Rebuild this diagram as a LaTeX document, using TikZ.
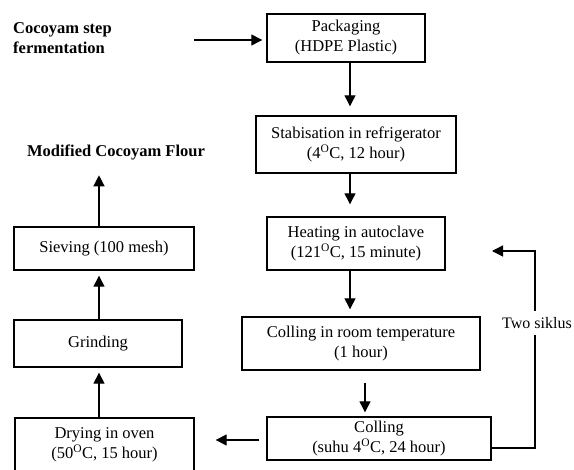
\documentclass[tikz,border=0pt]{standalone}
\usepackage{fontspec}
\setmainfont{Liberation Serif}
\usetikzlibrary{arrows.meta,calc}
\begin{document}
\begin{tikzpicture}[x=1pt,y=-1pt,
  box/.style 2 args={draw,line width=1.4pt,minimum width=#1,minimum height=#2,align=center,inner sep=0pt,font=\fontsize{16.5}{20}\selectfont},
  lbl/.style={inner sep=0pt,font=\fontsize{16}{20}\selectfont},
  blbl/.style={inner sep=0pt,font=\fontsize{16.5}{19.5}\selectfont\bfseries},
  arr/.style={-{Triangle[length=11pt,width=11pt]},line width=1.3pt},
  plain/.style={line width=1.3pt}]
\clip (0,0) rectangle (574,470);
\fill[white] (0,0) rectangle (574,470);
% nodes
\node[box={158pt}{48pt}] (pack) at (346,38) {Packaging\\(HDPE Plastic)};
\node[box={200pt}{57pt}] (stab) at (356,144.5) {Stabisation in refrigerator\\(4\textsuperscript{O}C, 12 hour)};
\node[box={178pt}{53pt}] (heat) at (356,243.5) {Heating in autoclave\\(121\textsuperscript{O}C, 15 minute)};
\node[box={238pt}{53pt}] (croom) at (361,343.5) {Colling in room temperature\\(1 hour)};
\node[box={224pt}{43pt}] (coll) at (379,438.5) {Colling\\(suhu 4\textsuperscript{O}C, 24 hour)};
\node[box={179pt}{54pt}] (dry) at (104.5,445) {Drying in oven\\(50\textsuperscript{O}C, 15 hour)};
\node[box={168pt}{47pt}] (grind) at (98,343.5) {Grinding};
\node[box={180pt}{43pt}] (sieve) at (104,248.5) {Sieving (100 mesh)};
\node[blbl] (mcf) at (116,152) {Modified Cocoyam Flour};
\node[blbl,anchor=west,align=left] (csf) at (13,38) {Cocoyam step\\fermentation};
\node[lbl,inner ysep=6pt,anchor=east] (two) at (572,323) {Two siklus};
% coordinates
\coordinate (cs) at (194,40);
\coordinate (lr) at (535,448);
\coordinate (ur) at (535,251);
\coordinate (lt) at (492,251);
% connectors
\draw[arr,shorten >=4pt] (cs) -- (pack.west |- cs);
\draw[arr,shorten >=9pt] (pack.south -| 350,0) -- (stab.north -| 350,0);
\draw[arr,shorten >=12pt] (stab.south -| 350,0) -- (heat.north -| 350,0);
\draw[arr,shorten >=7pt] (heat.south -| 350,0) -- (croom.north -| 350,0);
\draw[arr,shorten <=12pt,shorten >=4pt] (croom.south -| 365,0) -- (coll.north -| 365,0);
\draw[arr,shorten <=7pt,shorten >=21pt] (coll.west |- 0,440) -- (dry.east |- 0,440);
\draw[arr,shorten >=5pt] (dry.north -| 99,0) -- (grind.south -| 99,0);
\draw[arr,shorten >=5pt] (grind.north -| 99,0) -- (sieve.south -| 99,0);
\draw[arr,shorten >=15.5pt] (sieve.north -| 99,0) -- (mcf.south -| 99,0);
\draw[plain] (coll.east |- lr) -- (lr) -- (two.south -| lr);
\draw[arr] (two.north -| lr) -- (ur) -- (lt);
\end{tikzpicture}
\end{document}
